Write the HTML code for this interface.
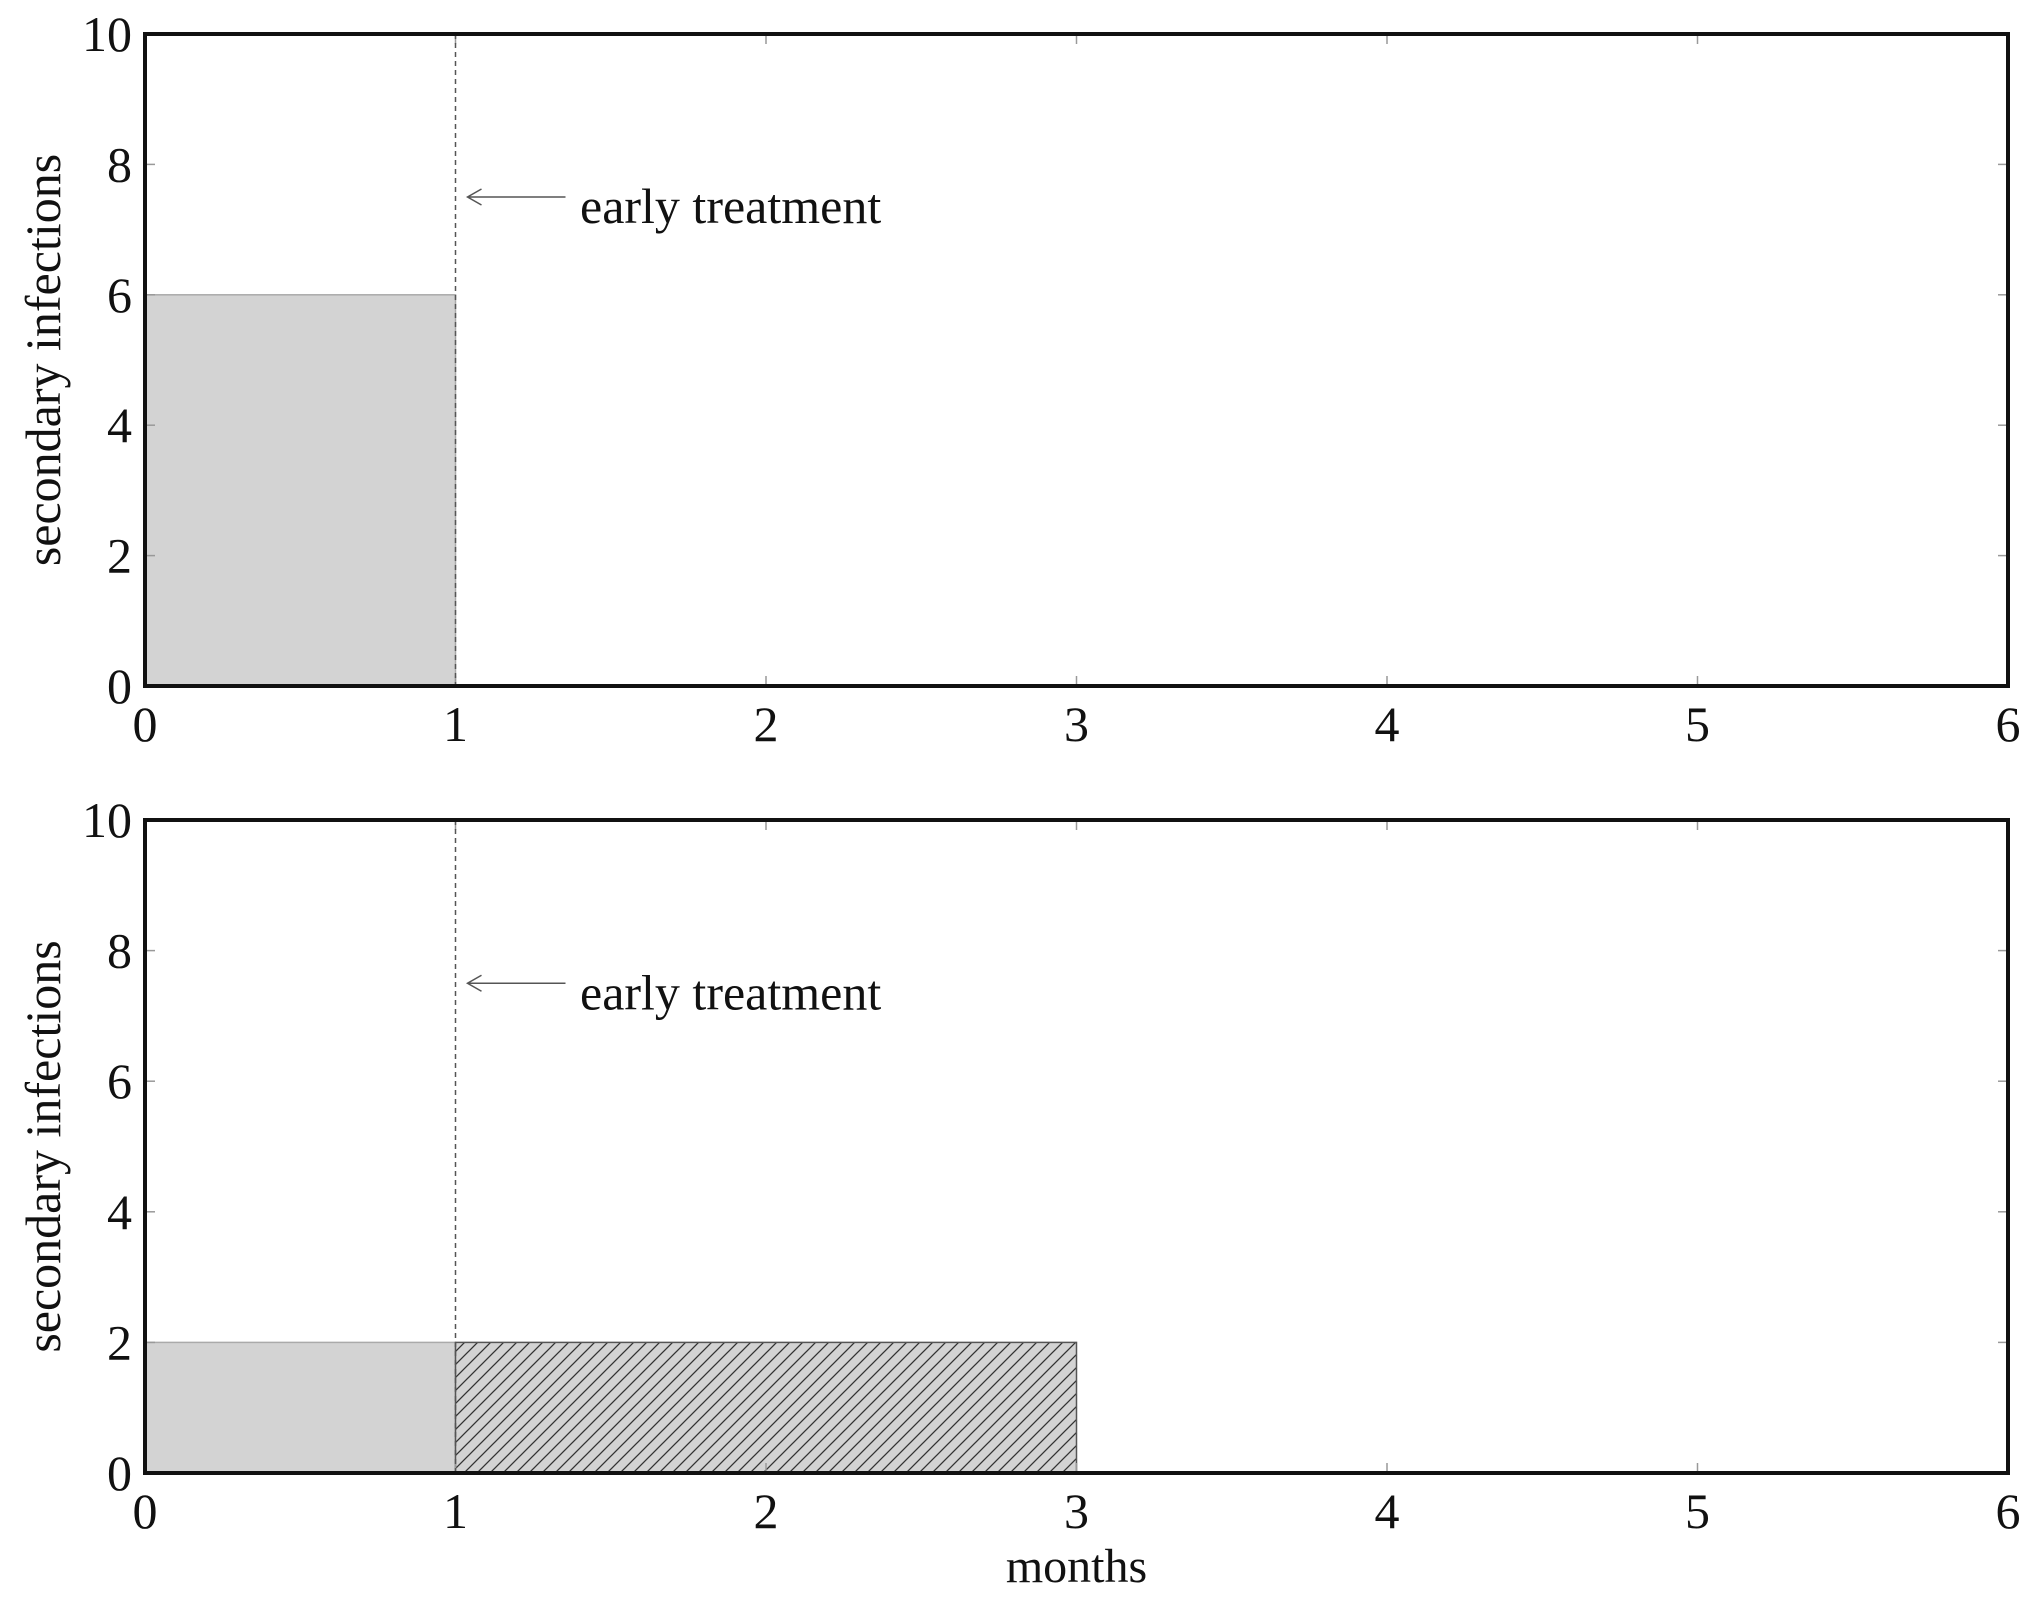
<!DOCTYPE html>
<html><head><meta charset="utf-8"><style>
html,body{margin:0;padding:0;background:#fff;}
svg{display:block;font-family:"Liberation Serif",serif;}
</style></head><body>
<svg id="chart" width="2040" height="1604" viewBox="0 0 2040 1604" xmlns="http://www.w3.org/2000/svg">
<defs>
<pattern id="hatch" patternUnits="userSpaceOnUse" width="13" height="13">
<rect width="13" height="13" fill="#d3d3d3"/>
<path d="M-2,15 L15,-2 M-2,2 L2,-2 M11,15 L15,11" stroke="#333" stroke-width="1.3"/>
</pattern>
</defs>
</svg>
<script>
const xTicks = [0,1,2,3,4,5,6];
const yTicks = [0,2,4,6,8,10];
const topSolidBars = [{x0:0,x1:1,v:6}];
const bottomSolidBars = [{x0:0,x1:1,v:2}];
const bottomHatchBars = [{x0:1,x1:3,v:2}];
const treatmentMonth = 1;
const arrowLevel = 7.5;

const NS='http://www.w3.org/2000/svg';
const svg=document.getElementById('chart');
function mk(tag,attrs,parent){const e=document.createElementNS(NS,tag);for(const k in attrs)e.setAttribute(k,attrs[k]);(parent||svg).appendChild(e);return e;}

function panel(name,top,bottom,solid,hatch,showXLabel){
  const L=145,R=2008;
  const g=mk('g',{});
  
  
  const xs=v=>L+(R-L)*v/6;
  const ys=v=>bottom-(bottom-top)*v/10;
  solid.forEach((b,i)=>{
    const r=mk('rect',{x:xs(b.x0),y:ys(b.v),width:xs(b.x1)-xs(b.x0),height:ys(0)-ys(b.v),fill:'#d3d3d3',stroke:'#aaa','stroke-width':1.5},g);
    
    
  });
  hatch.forEach((b,i)=>{
    const r=mk('rect',{x:xs(b.x0),y:ys(b.v),width:xs(b.x1)-xs(b.x0),height:ys(0)-ys(b.v),fill:'url(#hatch)',stroke:'#555','stroke-width':1.5},g);
    
    
  });
  xTicks.forEach(t=>{
    mk('line',{x1:xs(t),x2:xs(t),y1:bottom,y2:bottom-10,stroke:'#999','stroke-width':1.5},g);
    mk('line',{x1:xs(t),x2:xs(t),y1:top,y2:top+10,stroke:'#999','stroke-width':1.5},g);
    const tx=mk('text',{x:xs(t),y:bottom+55,'font-size':50,'text-anchor':'middle',fill:'#111'},g);
    tx.textContent=t;
    
    
  });
  yTicks.forEach(t=>{
    mk('line',{x1:L,x2:L+10,y1:ys(t),y2:ys(t),stroke:'#999','stroke-width':1.5},g);
    mk('line',{x1:R,x2:R-10,y1:ys(t),y2:ys(t),stroke:'#999','stroke-width':1.5},g);
    const tx=mk('text',{x:132,y:ys(t)+17,'font-size':50,'text-anchor':'end',fill:'#111'},g);
    tx.textContent=t;
    
    
  });
  const dl=mk('line',{x1:xs(treatmentMonth),x2:xs(treatmentMonth),y1:top,y2:bottom,stroke:'#555','stroke-width':1.5,'stroke-dasharray':'5,4'},g);
  
  
  const ay=ys(arrowLevel), ax=xs(treatmentMonth)+12;
  const ar=mk('path',{d:`M${ax+98},${ay} L${ax},${ay} M${ax+14},${ay-8} L${ax},${ay} L${ax+14},${ay+8}`,stroke:'#555','stroke-width':1.5,fill:'none'},g);
  
  
  const at=mk('text',{x:580,y:ay+26,'font-size':50,fill:'#111'},g);
  at.textContent='early treatment';
  
  
  const fr=mk('rect',{x:L,y:top,width:R-L,height:bottom-top,fill:'none',stroke:'#111','stroke-width':4},g);
  
  
  const cy=(top+bottom)/2;
  const yl=mk('text',{x:60,y:cy,'font-size':50,'text-anchor':'middle',fill:'#111',transform:`rotate(-90 60 ${cy})`},g);
  yl.textContent='secondary infections';
  
  
  if(showXLabel){
    const xl=mk('text',{x:(L+R)/2,y:1582,'font-size':48,'text-anchor':'middle',fill:'#111'},g);
    xl.textContent='months';
    
    
  }
}
panel('top-panel',34,686,topSolidBars,[],false);
panel('bottom-panel',820,1473,bottomSolidBars,bottomHatchBars,true);
</script>
</body></html>
